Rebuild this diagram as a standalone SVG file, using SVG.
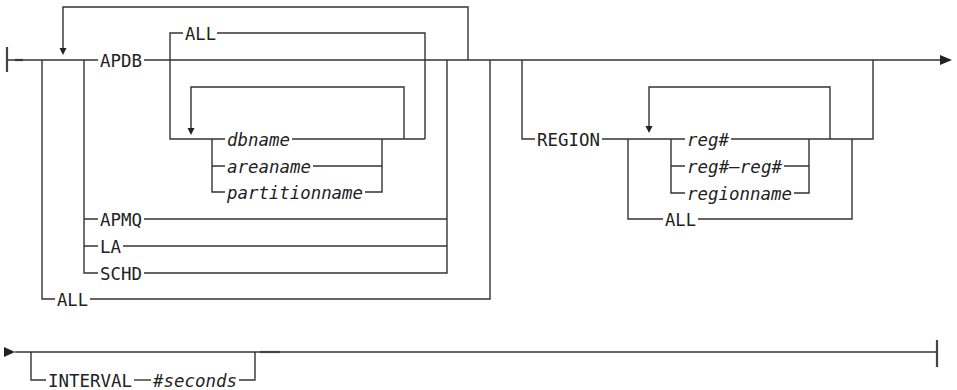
<svg xmlns="http://www.w3.org/2000/svg" width="957" height="390" viewBox="0 0 957 390">
<style>
.l{fill:none;stroke:#333;stroke-width:1.4}
.b{fill:none;stroke:#444;stroke-width:2.2}
.t{font-family:"DejaVu Sans Mono","Liberation Mono",monospace;font-size:18.5px;fill:#222}
.i{font-style:italic}
.a{fill:#222}
</style>
<rect width="957" height="390" fill="#fff"/>
<g id="connectors">
<path class="b" d="M7,47V72"/>
<path class="b" d="M15,60H23"/>
<path class="l" d="M7,60H98"/>
<path class="l" d="M144,60H941"/>
<polygon class="a" points="940,55 952,60 940,65"/>
<path class="l" d="M468,60V7H63V48"/>
<polygon class="a" points="59.5,48 66.5,48 63,55"/>
<path class="l" d="M183,33H170V139H225"/>
<path class="l" d="M217,33H425V139"/>
<path class="l" d="M404,139V87H191V128"/>
<polygon class="a" points="187.5,128 194.5,128 191,135"/>
<path class="l" d="M212,139V192H225M212,166H225"/>
<path class="l" d="M292,139H425"/>
<path class="l" d="M313,166H382M365,192H382V139"/>
<path class="l" d="M84,60V273H98M84,219H98M84,246H98"/>
<path class="l" d="M144,219H447M123,246H447M144,273H447V60"/>
<path class="l" d="M42,60V299H55"/>
<path class="l" d="M90,299H490V60"/>
<path class="l" d="M522,60V139H535"/>
<path class="l" d="M602,139H685"/>
<path class="l" d="M731,139H873V60"/>
<path class="l" d="M628,139V219H663"/>
<path class="l" d="M698,219H852V139"/>
<path class="l" d="M830,139V87H649V126"/>
<polygon class="a" points="645.5,126 652.5,126 649,133"/>
<path class="l" d="M671,139V193H685M671,166H685"/>
<path class="l" d="M784,166H809M794,193H809V139"/>
<polygon class="a" points="4,347 15,352 4,357"/>
<path class="l" d="M15,352H937"/>
<path class="b" d="M260,352H280"/>
<path class="l" d="M31,352V380H46"/>
<path class="l" d="M134,380H151"/>
<path class="l" d="M239,380H255V352"/>
<path class="b" d="M937,340V367"/>
</g>
<g id="n-apdb"><text class="t" x="100" y="66.5" textLength="42" lengthAdjust="spacingAndGlyphs">APDB</text></g>
<g id="n-all-top"><text class="t" x="185" y="39.5" textLength="31" lengthAdjust="spacingAndGlyphs">ALL</text></g>
<g id="n-dbname"><text class="t i" x="227" y="145.5" textLength="63" lengthAdjust="spacingAndGlyphs">dbname</text></g>
<g id="n-areaname"><text class="t i" x="227" y="172.5" textLength="84" lengthAdjust="spacingAndGlyphs">areaname</text></g>
<g id="n-partitionname"><text class="t i" x="227" y="198.5" textLength="136" lengthAdjust="spacingAndGlyphs">partitionname</text></g>
<g id="n-apmq"><text class="t" x="100" y="225.5" textLength="42" lengthAdjust="spacingAndGlyphs">APMQ</text></g>
<g id="n-la"><text class="t" x="100" y="252.5" textLength="21" lengthAdjust="spacingAndGlyphs">LA</text></g>
<g id="n-schd"><text class="t" x="100" y="279.5" textLength="42" lengthAdjust="spacingAndGlyphs">SCHD</text></g>
<g id="n-all-bottom"><text class="t" x="57" y="305.5" textLength="31" lengthAdjust="spacingAndGlyphs">ALL</text></g>
<g id="n-region"><text class="t" x="537" y="145.5" textLength="63" lengthAdjust="spacingAndGlyphs">REGION</text></g>
<g id="n-reg"><text class="t i" x="687" y="145.5" textLength="42" lengthAdjust="spacingAndGlyphs">reg#</text></g>
<g id="n-regrange"><text class="t i" x="687" y="172.5" textLength="95" lengthAdjust="spacingAndGlyphs">reg#—reg#</text></g>
<g id="n-regionname"><text class="t i" x="687" y="199.5" textLength="105" lengthAdjust="spacingAndGlyphs">regionname</text></g>
<g id="n-region-all"><text class="t" x="665" y="225.5" textLength="31" lengthAdjust="spacingAndGlyphs">ALL</text></g>
<g id="n-interval"><text class="t" x="48" y="386.5" textLength="84" lengthAdjust="spacingAndGlyphs">INTERVAL</text></g>
<g id="n-seconds"><text class="t i" x="153" y="386.5" textLength="84" lengthAdjust="spacingAndGlyphs">#seconds</text></g>
</svg>
